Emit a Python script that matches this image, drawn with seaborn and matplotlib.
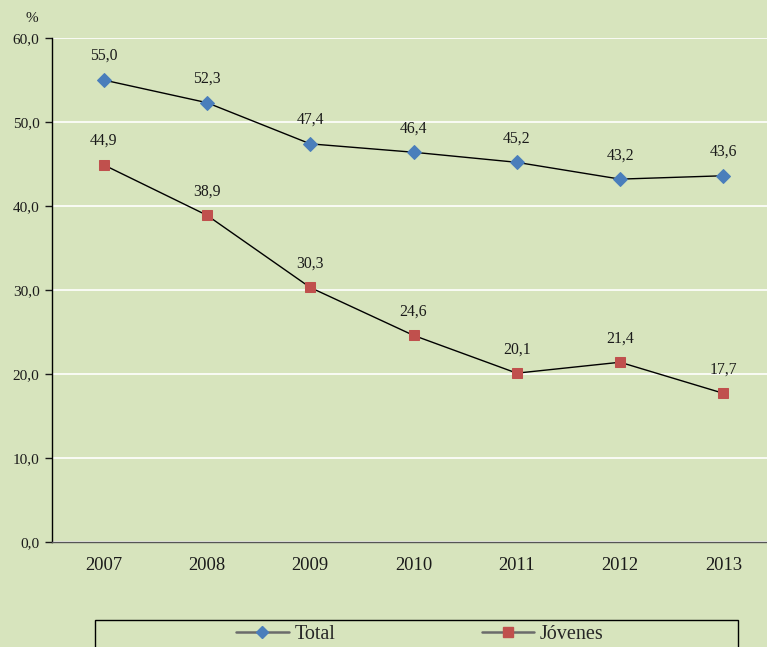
import matplotlib
matplotlib.use("Agg")
import matplotlib.pyplot as plt
import seaborn as sns
import pandas as pd
from matplotlib.patches import Rectangle
from matplotlib.lines import Line2D

years = ["2007", "2008", "2009", "2010", "2011", "2012", "2013"]
total = [55.0, 52.3, 47.4, 46.4, 45.2, 43.2, 43.6]
jovenes = [44.9, 38.9, 30.3, 24.6, 20.1, 21.4, 17.7]
yticks = [0, 10, 20, 30, 40, 50, 60]

BG = "#d7e4bd"
BLUE = "#4a7ebb"
RED = "#c0504d"

sns.set_theme(style="white")
plt.rcParams["font.family"] = ["Liberation Serif", "DejaVu Serif"]

df = pd.DataFrame({"year": years * 2,
                   "value": total + jovenes,
                   "serie": ["Total"] * len(years) + ["Jóvenes"] * len(years)})
df["x"] = list(range(len(years))) * 2

fig = plt.figure(figsize=(7.67, 6.47), dpi=100, facecolor=BG)
ax = fig.add_axes([52 / 767, 1 - 542 / 647, (775 - 52) / 767, (542 - 38) / 647])
ax.set_facecolor(BG)

for name, col, mk, ms in [("Total", BLUE, "D", 7), ("Jóvenes", RED, "s", 7.5)]:
    sub = df[df.serie == name]
    sns.lineplot(data=sub, x="x", y="value", ax=ax, color="black", linewidth=1,
                 marker=mk, markersize=ms, markerfacecolor=col, markeredgecolor=col,
                 legend=False, zorder=3)
    for xi, v in zip(sub.x, sub.value):
        ax.annotate(f"{v:.1f}".replace(".", ","), (xi, v), xytext=(0, 11.5),
                    textcoords="offset points", ha="center", va="bottom",
                    fontsize=11.3, color="#1a1a1a")

ax.set_xlim(-0.5, 6.5)
ax.set_ylim(0, 60)
ax.set_yticks(yticks)
ax.set_yticklabels([f"{v:.1f}".replace(".", ",") for v in yticks], fontsize=11)
ax.set_xticks(range(len(years)))
ax.set_xticklabels(years, fontsize=13.3)
ax.set_xticks([i + 0.5 for i in range(-1, len(years))], minor=True)
ax.tick_params(axis="x", which="major", length=0, pad=11, colors="#1a1a1a")
ax.tick_params(axis="x", which="minor", length=5, width=1, color="black", direction="out")
ax.tick_params(axis="y", length=5, width=1, direction="out", left=True, pad=4, colors="#1a1a1a")
ax.grid(axis="y", color="white", linewidth=1.2)
ax.set_axisbelow(True)
for s in ["top", "right"]:
    ax.spines[s].set_visible(False)
for s in ["left", "bottom"]:
    ax.spines[s].set_color("black")
    ax.spines[s].set_linewidth(1)
ax.spines["bottom"].set_color("#555555")
ax.set_xlabel("")
ax.set_ylabel("")

fig.text(32 / 767, 1 - 18 / 647, "%", fontsize=11, ha="center", va="center", color="#1a1a1a")

# legend box
fig.patches.append(Rectangle((95 / 767, -0.01), (738 - 95) / 767, 0.01 + 1 - 620 / 647,
                             transform=fig.transFigure, fill=False, edgecolor="black",
                             linewidth=1))
handles = [Line2D([], [], color="#6b6b6b", lw=1.8, marker="D", markersize=6.5,
                  markerfacecolor=BLUE, markeredgecolor=BLUE),
           Line2D([], [], color="#6b6b6b", lw=1.8, marker="s", markersize=7.5,
                  markerfacecolor=RED, markeredgecolor=RED)]
fig.legend(handles, ["Total", "Jóvenes"], loc="center", bbox_to_anchor=(420 / 767, 1 - 634 / 647),
           ncol=2, frameon=False, fontsize=14.5, columnspacing=7.25, handlelength=2.6,
           handletextpad=0.3)

fig.savefig("out.png", dpi=100, facecolor=BG)
